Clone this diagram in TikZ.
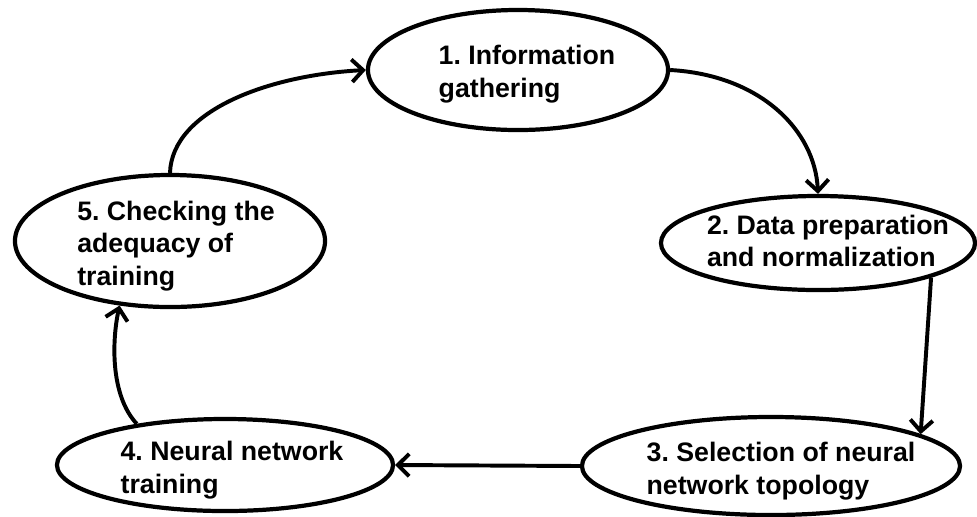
\documentclass[tikz,border=0pt]{standalone}
\usepackage{fontspec}
\setmainfont{Liberation Sans}
\frenchspacing
\usetikzlibrary{arrows.meta, shapes.geometric}

\tikzset{
    stage/.style={draw, ellipse, line width=3pt, inner sep=0pt},
    txt/.style={align=left, inner sep=0pt, font=\bfseries\fontsize{19}{23}\selectfont},
    flow/.style={line width=2.8pt, -{Straight Barb[length=8pt, width=16pt]}}
}

\begin{document}
\begin{tikzpicture}[x=0.025cm, y=-0.025cm]
    \useasboundingbox (0,0) rectangle (977,516);

    % the five stages of the cycle
    \node[stage, minimum width=7.5cm, minimum height=3cm] (s1) at (518,70) {};
    \node[stage, minimum width=7.85cm, minimum height=2.35cm] (s2) at (818,243) {};
    \node[stage, minimum width=9.45cm, minimum height=2.45cm] (s3) at (771,466) {};
    \node[stage, minimum width=8.4cm, minimum height=2.3cm] (s4) at (225,465) {};
    \node[stage, minimum width=7.75cm, minimum height=3.3cm] (s5) at (170,241) {};

    \node[txt] (t1) at (527,74) {1. Information\\gathering};
    \node[txt] (t2) at (828,241) {2. Data preparation\\and normalization};
    \node[txt] (t3) at (781,471) {3. Selection of neural\\network topology};
    \node[txt] (t4) at (232,470) {4. Neural network\\training};
    \node[txt] (t5) at (176,246) {5. Checking the\\adequacy of\\training};

    % arrows between stages
    \draw[flow] (s1.east) .. controls (760,75) and (815,130) .. (s2.north);
    \draw[flow] (s2.-17) -- (s3.12);
    \draw[flow] (s3.west) -- (s4.east);
    \draw[flow] (s4.155) .. controls (110,395) and (112,340) .. (s5.-128);
    \draw[flow] (s5.north) .. controls (172,110) and (270,75) .. (s1.west);
\end{tikzpicture}
\end{document}
